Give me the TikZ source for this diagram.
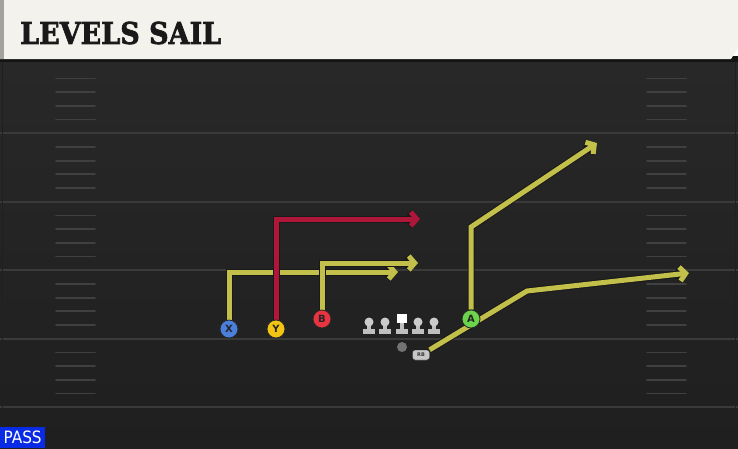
\documentclass[tikz,border=0pt]{standalone}
\usepackage{fontspec}
\setmainfont{DejaVu Sans}
\newfontfamily\titlefont{DejaVu Serif Condensed Bold}[FakeBold=2.2]
\newfontfamily\passfont{DejaVu Sans Condensed}
\usetikzlibrary{arrows.meta}
\definecolor{titlebg}{HTML}{F4F2EC}
\definecolor{titlestrip}{HTML}{A3A39E}
\definecolor{fieldtop}{HTML}{282828}
\definecolor{fieldlow}{HTML}{1F1F1F}
\definecolor{yardline}{HTML}{3A3A3A}
\definecolor{hashline}{HTML}{404040}
\definecolor{routeyel}{HTML}{C2C04A}
\definecolor{routered}{HTML}{AE163A}
\definecolor{xblue}{HTML}{4A7FDB}
\definecolor{yyellow}{HTML}{F4C414}
\definecolor{bred}{HTML}{E83340}
\definecolor{agreen}{HTML}{6CD44A}
\definecolor{passblue}{HTML}{0A2BE6}
\def\playroute#1#2{\draw[routeedge] #2; \draw[route, #1] #2;}
\def\lineman#1{%
  \fill[black!25] (#1-6, 329) rectangle (#1+6, 334);
  \fill[black!25] (#1-2, 325) rectangle (#1+2, 329);
  \fill[black!20] (#1, 322) circle (4.5);}

\begin{document}
\begin{tikzpicture}[x=1pt, y=-1pt,
    route/.style={line width=5pt, color=routeyel, line join=miter, -{Straight Barb[length=6pt,width=14pt]}},
    routeedge/.style={line width=7pt, color=black!90, line join=miter, -{Straight Barb[length=6pt,width=14pt]}},
    player/.style={circle, draw=black!85, line width=0.8pt, minimum size=18pt, inner sep=0pt,
      font=\bfseries\fontsize{10}{10}\selectfont, text=black!85}]
    %%%%% START %%%%%
    \useasboundingbox (0,0) rectangle (738,448);

    % field
    \shade[top color=fieldtop, bottom color=fieldlow] (0,60) rectangle (738,448);
    \foreach \yy in {133,201.5,270,338.5,407}
      \draw[yardline, line width=2pt] (0,\yy) -- (738,\yy);
    \foreach \yy in {78.4,92.1,105.8,119.5,146.9,160.6,174.3,188,215.4,229.1,242.8,256.5,283.9,297.6,311.3,325,352.4,366.1,379.8,393.5}{
      \draw[hashline, line width=1.8pt, line cap=round] (56,\yy) -- (95,\yy);
      \draw[hashline, line width=1.8pt, line cap=round] (647,\yy) -- (686,\yy);
    }
    \draw[black!20!fieldtop, line width=1pt] (2.5,62) -- (2.5,448);
    \draw[black!20!fieldtop, line width=1pt] (735.5,62) -- (735.5,448);

    % title bar
    \fill[black!92] (0,56) rectangle (738,62);
    \fill[titlebg] (0,0) -- (738,0) -- (738,48) -- (731,59) -- (0,59) -- cycle;
    \fill[titlestrip] (0,0) rectangle (4,59);
    \node[anchor=west, inner sep=0pt, text=black!90] (title) at (20,33)
      {\titlefont\fontsize{30}{30}\selectfont LEVELS SAIL};

    % line and ball
    \lineman{369}
    \lineman{385}
    \lineman{418}
    \lineman{434}
    \fill[black!25] (396,329) rectangle (408,334);
    \fill[black!25] (400,323) rectangle (404,329);
    \fill[white] (397,314) rectangle (407,323);
    \node[circle, fill=black!55, minimum size=10pt, inner sep=0pt] (ball) at (402,347) {};

    % players
    \node[player, fill=xblue] (X) at (229,329) {X};
    \node[player, fill=yyellow] (Y) at (276,329) {Y};
    \node[player, fill=bred] (B) at (322,319) {B};
    \node[player, fill=agreen] (A) at (471,319) {A};
    \node[draw=black!90, fill=black!22, rounded corners=2.5pt, minimum width=17pt, minimum height=10pt,
      inner sep=0pt, font=\bfseries\fontsize{5}{5}\selectfont, text=black!80] (RB) at (421,355) {RB};

    % routes
    \coordinate (Xtip) at (398,272);
    \coordinate (Ytip) at (420,219);
    \coordinate (Btip) at (418,263);
    \coordinate (Acut) at (471,227);
    \coordinate (Atip) at (597,143);
    \coordinate (RBcut) at (527,291);
    \coordinate (RBtip) at (689,273);
    \playroute{}{(X) |- (Xtip)}
    \playroute{}{(B) |- (Btip)}
    \playroute{routered}{(Y) |- (Ytip)}
    \playroute{}{(A) -- (Acut) -- (Atip)}
    \playroute{}{(RB) -- (RBcut) -- (RBtip)}

    % redraw players over routes
    \node[player, fill=xblue] at (X) {X};
    \node[player, fill=yyellow] at (Y) {Y};
    \node[player, fill=bred] at (B) {B};
    \node[player, fill=agreen] at (A) {A};
    \node[draw=black!90, fill=black!22, rounded corners=2.5pt, minimum width=17pt, minimum height=10pt,
      inner sep=0pt, font=\bfseries\fontsize{5}{5}\selectfont, text=black!80] at (RB) {RB};

    % play type
    \node[fill=passblue, anchor=south west, inner sep=0pt, minimum width=45pt, minimum height=21pt,
      text=white, font=\passfont\fontsize{17}{17}\selectfont] (ptype) at (0,448) {PASS};
    %%%%% END %%%%%
\end{tikzpicture}
\end{document}
